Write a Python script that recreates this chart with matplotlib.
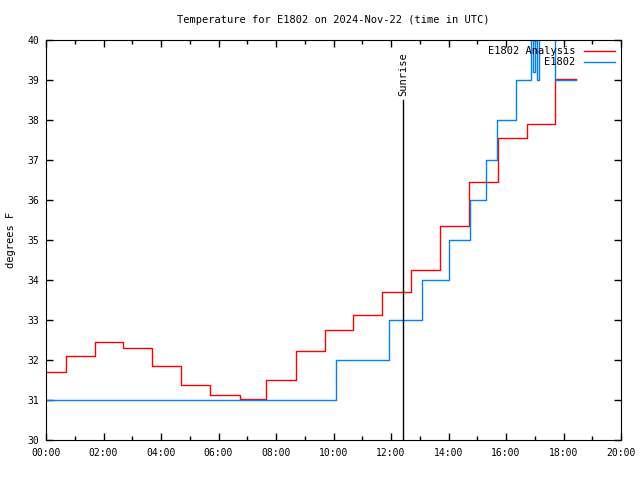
import matplotlib
matplotlib.use("Agg")
import matplotlib.pyplot as plt
from matplotlib.ticker import MultipleLocator, FuncFormatter

# analysis series (hours UTC, deg F)
an_hours = [0.0, 0.70, 1.70, 2.68, 3.69, 4.70, 5.70, 6.75, 7.65, 8.70, 9.70,
            10.68, 11.69, 12.70, 13.70, 14.70, 15.72, 16.73, 17.70, 18.42]
an_temp = [31.7, 32.1, 32.45, 32.3, 31.85, 31.38, 31.13, 31.03, 31.5, 32.23, 32.75,
           33.12, 33.7, 34.25, 35.35, 36.45, 37.55, 37.9, 39.02, 39.02]

# observed series
ob_hours = [0.0, 10.10, 11.93, 13.08, 14.02, 14.75, 15.30, 15.69, 16.35, 16.87,
            16.94, 17.01, 17.08, 17.15, 17.70, 18.43]
ob_temp = [31.0, 32.0, 33.0, 34.0, 35.0, 36.0, 37.0, 38.0, 39.0, 40.6,
           39.2, 40.6, 39.0, 40.6, 39.0, 39.0]

sunrise = 12.42

plt.rcParams['font.family'] = 'DejaVu Sans Mono'
plt.rcParams['font.size'] = 7

fig = plt.figure(figsize=(6.4, 4.8), dpi=100)
ax = fig.add_axes([46/640, 40/480, 575/640, 400/480])

ax.step(an_hours, an_temp, where='post', color='#ff0000', lw=1, label='E1802 Analysis')
ax.step(ob_hours, ob_temp, where='post', color='#0080ff', lw=1, label='E1802')

ax.plot([sunrise, sunrise], [30, 38.5], color='black', lw=1)
ax.text(sunrise, 38.6, 'Sunrise', rotation=90, ha='center', va='bottom', fontsize=7.5)

ax.set_xlim(0, 20)
ax.set_ylim(30, 40)
ax.xaxis.set_major_locator(MultipleLocator(2))
ax.xaxis.set_minor_locator(MultipleLocator(1))
ax.yaxis.set_major_locator(MultipleLocator(1))
ax.xaxis.set_major_formatter(FuncFormatter(lambda v, p: '%02d:00' % int(v)))
ax.tick_params(which='both', direction='in', top=True, right=True, width=1)
ax.tick_params(which='major', length=5)
ax.tick_params(which='minor', length=3)
ax.tick_params(axis='x', which='major', pad=6)
ax.tick_params(axis='y', which='major', pad=5)

ax.set_title('Temperature for E1802 on 2024-Nov-22 (time in UTC)', fontsize=7.5, pad=12)
ax.set_ylabel('degrees F', fontsize=7.5, labelpad=8)

ax.legend(loc='upper right', frameon=False, markerfirst=False, handlelength=3,
          fontsize=7.5, borderaxespad=0.2, labelspacing=0.1)

fig.savefig('out.png', dpi=100)
